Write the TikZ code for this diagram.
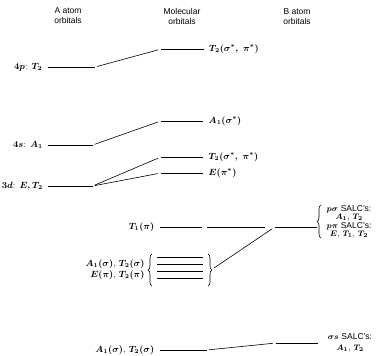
\documentclass[tikz,border=0pt]{standalone}
\usepackage{amsmath}
\usepackage{fontspec}
\setsansfont{Liberation Sans}
\usetikzlibrary{positioning, decorations.pathreplacing}

\begin{document}
\begin{tikzpicture}[x=1pt, y=-1pt, font=\fontsize{9}{10}\selectfont\boldmath,
    lvl/.style={minimum height=0pt, inner sep=0pt, minimum width=44pt},
    conn/.style={line width=0.6pt, shorten <=2pt, shorten >=3pt},
    hdr/.style={font=\sffamily\fontsize{8.5}{10}\selectfont, align=center},
    brc/.style={decorate, decoration={brace, amplitude=4pt}, line width=0.6pt}]
  \useasboundingbox (0,0) rectangle (378,356);
  % column headings
  \node[hdr] (hA) at (68,16) {A atom\\orbitals};
  \node[hdr] (hM) at (182,16) {Molecular\\orbitals};
  \node[hdr] (hB) at (297,17) {B atom\\orbitals};
  % A atom levels
  \node[lvl, minimum width=47pt] (a4p) at (71.5,67) {};
  \node[lvl] (a4s) at (70.5,145) {};
  \node[lvl] (a3d) at (70.5,186) {};
  \node[left=2pt of a4p] {$4p$: $T_2$};
  \node[left=2pt of a4s] {$4s$: $A_1$};
  \node[left=2pt of a3d] {$3d$: $E, T_2$};
  % antibonding MOs
  \node[lvl, minimum width=42pt] (m4p) at (182.5,49) {};
  \node[lvl, minimum width=42pt] (mA1) at (182,121) {};
  \node[lvl, minimum width=42pt] (mT2) at (182,157) {};
  \node[lvl, minimum width=42pt] (mE) at (182,173) {};
  \node[right=2pt of m4p] {$T_2(\sigma^*,\ \pi^*)$};
  \node[right=2pt of mA1] {$A_1(\sigma^*)$};
  \node[right=2pt of mT2] {$T_2(\sigma^*,\ \pi^*)$};
  \node[right=2pt of mE] {$E(\pi^*)$};
  % nonbonding
  \node[lvl, minimum width=42pt] (mT1) at (181,227) {};
  \node[left=2pt of mT1] {$T_1(\pi)$};
  % bonding set
  \node[lvl, minimum width=46pt] (mb1) at (180,257) {};
  \node[lvl, minimum width=46pt] (mb2) at (180,264) {};
  \node[lvl, minimum width=46pt] (mb3) at (180,271) {};
  \node[lvl, minimum width=46pt] (mb4) at (180,278) {};
  \coordinate (bl1) at (152,254);
  \coordinate (bl2) at (152,286);
  \coordinate (br1) at (208,254);
  \coordinate (br2) at (208,286);
  \coordinate (btip) at (214,268);
  \node[align=right, anchor=east, font=\fontsize{9}{11}\selectfont\boldmath] (lb) at (148,270)
    {$A_1(\sigma)$, $T_2(\sigma)$\\$E(\pi)$, $T_2(\pi)$};
  \node[lvl, minimum width=47pt] (mbot) at (183.5,350) {};
  \node[left=2pt of mbot] {$A_1(\sigma)$, $T_2(\sigma)$};
  % B atom levels
  \node[lvl, minimum width=42pt] (bpi) at (296,227) {};
  \node[lvl, minimum width=42pt] (bs) at (297,343) {};
  \coordinate (sb1) at (321,205);
  \coordinate (sb2) at (321,238);
  \node[align=center, font=\fontsize{8.5}{8.4}\selectfont\boldmath] (lpi) at (349,222)
    {$p\sigma$ {\sffamily SALC's:}\\$A_1$, $T_2$\\$p\pi$ {\sffamily SALC's:}\\$E$, $T_1$, $T_2$};
  \node[align=center, font=\fontsize{8.5}{11}\selectfont\boldmath] (ls) at (350,343)
    {$\sigma s$ {\sffamily SALC's:}\\$A_1$, $T_2$};
  \foreach \n in {a4p,a4s,a3d,m4p,mA1,mT2,mE,mT1,mb1,mb2,mb3,mb4,mbot,bpi,bs}
    \draw[line width=0.9pt] (\n.west) -- (\n.east);
  % braces
  \draw[brc] (bl2) -- (bl1);
  \draw[brc] (br1) -- (br2);
  \draw[brc] (sb2) -- (sb1);
  % connectors
  \draw[conn] (a4p.east) -- (m4p.west);
  \draw[conn] (a4s.east) -- (mA1.west);
  \draw[conn] (a3d.east) -- (mT2.west);
  \draw[conn] (a3d.east) -- (mE.west);
  \draw[conn, shorten <=5pt, shorten >=10pt] (mT1.east) -- (bpi.west);
  \draw[conn, shorten <=0pt] (btip) -- (bpi.west);
  \draw[conn] (mbot.east) -- (bs.west);
\end{tikzpicture}
\end{document}
